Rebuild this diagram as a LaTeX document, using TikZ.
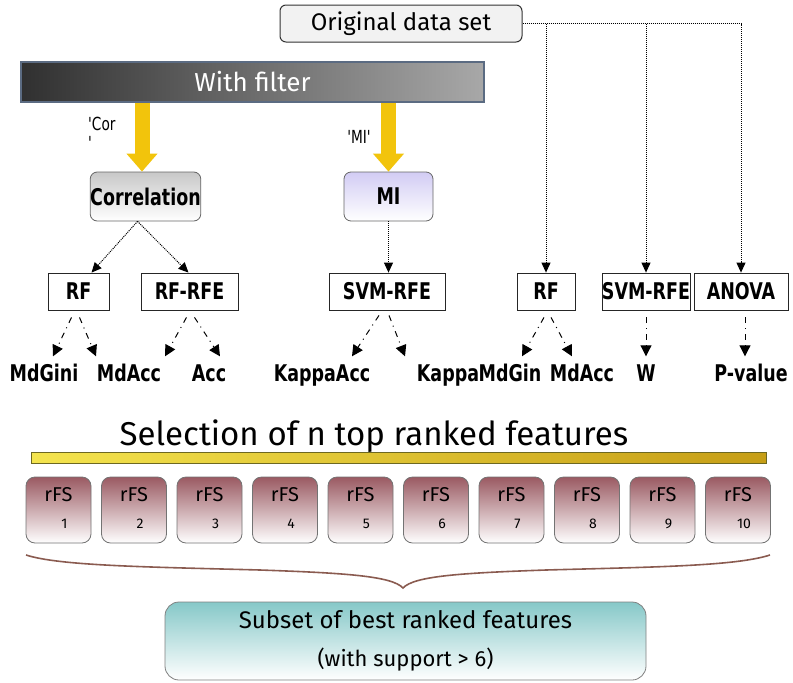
\documentclass[tikz,border=0pt]{standalone}
\usepackage{fontspec}
\setmainfont{DejaVu Sans}
\newfontfamily\handfont{Fira Sans}
\newfontfamily\boxfont{DejaVu Sans}[FakeStretch=0.76]
\usepackage{xcolor}
\usepackage{tikz}
\usetikzlibrary{calc, positioning, arrows.meta}
\definecolor{origFill}{HTML}{F2F2F2}
\definecolor{filterLeft}{HTML}{303030}
\definecolor{filterRight}{HTML}{A8A8A8}
\definecolor{filterBorder}{HTML}{5B6B82}
\definecolor{arrowYellow}{HTML}{F2C40C}
\definecolor{corrTop}{HTML}{C8C8C8}
\definecolor{miTop}{HTML}{D2CCF4}
\definecolor{rfsTop}{HTML}{9A5A62}
\definecolor{subsetTop}{HTML}{86C8C8}
\definecolor{selLeft}{HTML}{F4E44E}
\definecolor{selRight}{HTML}{C69E16}
\definecolor{braceBrown}{HTML}{8A5B50}
\tikzset{
    hand/.style={font=\handfont\fontsize{24}{28}\selectfont},
    origBox/.style={rectangle, rounded corners=6pt, draw=black!80, line width=1pt, fill=origFill, minimum width=242pt, minimum height=37pt, hand},
    filterBar/.style={rectangle, draw=filterBorder, line width=1.2pt, left color=filterLeft, right color=filterRight, minimum width=463pt, minimum height=40pt, text=white, font=\handfont\fontsize{26}{30}\selectfont},
    filterBox/.style={rectangle, rounded corners=7pt, draw=black!60, line width=0.8pt, minimum width=109pt, minimum height=49pt, inner sep=0pt, font=\boxfont\bfseries\fontsize{23}{25}\selectfont},
    method/.style={rectangle, draw=black!85, line width=0.8pt, fill=white, minimum height=37pt, inner sep=0pt, font=\boxfont\bfseries\fontsize{23}{25}\selectfont},
    leaf/.style={inner sep=0pt, text height=17pt, text depth=4pt, font=\boxfont\bfseries\fontsize{23}{25}\selectfont},
    tag/.style={inner sep=0pt, align=left, font=\boxfont\fontsize{18}{19}\selectfont},
    yellowArrow/.style={line width=15pt, draw=arrowYellow, -{Triangle[length=18pt, width=30pt]}},
    dotArrow/.style={densely dotted, line width=1pt, -{Triangle[length=10pt, width=9pt]}},
    dataLine/.style={densely dotted, line width=1pt},
    leafArrow/.style={line width=1pt, dash pattern=on 6pt off 5pt on 1pt off 5pt, -{Triangle[length=11pt, width=11pt]}},
    selBar/.style={rectangle, draw=olive!70!black, line width=0.8pt, left color=selLeft, right color=selRight, minimum width=735pt, minimum height=11pt, inner sep=0pt},
    rfsBox/.style={rectangle, rounded corners=9pt, draw=black!55, line width=0.8pt, top color=rfsTop, bottom color=white, minimum width=65pt, minimum height=66pt},
    rfsText/.style={inner sep=0pt, font=\handfont\fontsize{20}{22}\selectfont},
    rfsNum/.style={inner sep=0pt, font=\handfont\fontsize{14}{16}\selectfont},
    subsetBox/.style={rectangle, rounded corners=14pt, draw=black!50, line width=0.8pt, top color=subsetTop, bottom color=white, minimum width=481pt, minimum height=78pt, align=center, hand},
    braceLine/.style={draw=braceBrown, line width=1.6pt}
}

\begin{document}
\begin{tikzpicture}[x=1pt, y=-1pt]
    \useasboundingbox (0,0) rectangle (793,683);

    % Top: data set and filter bar
    \node[origBox] (origData) at (401,23.5) {Original data set};
    \node[filterBar] (withFilter) at (252.5,82) {With filter};

    % Filter methods
    \node[filterBox, top color=corrTop, bottom color=white] (corr) at (145.5,196.5) {Correlation};
    \node[filterBox, top color=miTop, bottom color=white, minimum width=89pt] (mi) at (388.5,196.5) {MI};

    \draw[yellowArrow] (withFilter.south -| 142,0) -- (corr.north -| 142,0);
    \draw[yellowArrow] (withFilter.south -| mi.north) -- (mi.north);
    \node[tag, anchor=north west] (corTag) at (88,117) {'Cor\\'};
    \node[tag] (miTag) at (359,137) {'MI'};

    % Classifier / ranking boxes
    \node[method, minimum width=61pt] (rfA) at (78.5,291.5) {RF};
    \node[method, minimum width=97pt] (rfRfe) at (189.5,291.5) {RF-RFE};
    \node[method, minimum width=116pt] (svmRfeA) at (387,291.5) {SVM-RFE};
    \node[method, minimum width=58pt] (rfB) at (546,291.5) {RF};
    \node[method, minimum width=88pt] (svmRfeB) at (646,291.5) {SVM-RFE};
    \node[method, minimum width=94pt] (anova) at (741,291.5) {ANOVA};

    % Dotted arrows into the boxes
    \draw[dotArrow] ([xshift=-8pt]corr.south) -- ([xshift=13pt]rfA.north);
    \draw[dotArrow] ([xshift=-8pt]corr.south) -- ([xshift=-1pt]rfRfe.north);
    \draw[dotArrow] (mi.south) -- (mi.south |- svmRfeA.north);
    \draw[dataLine] (origData.east) -| ([yshift=10pt]anova.north);
    \draw[dotArrow] (origData.east -| rfB.north) -- (rfB.north);
    \draw[dotArrow] (origData.east -| svmRfeB.north) -- (svmRfeB.north);
    \draw[dotArrow] ([yshift=11pt]anova.north) -- (anova.north);

    % Ranking measures
    \node[leaf] (mdGiniA) at (44,375) {MdGini};
    \node[leaf] (mdAccA) at (129,375) {MdAcc};
    \node[leaf] (accA) at (209,375) {Acc};
    \node[leaf] (kappaAcc) at (322,375) {KappaAcc};
    \node[leaf] (kappa) at (448,375) {Kappa};
    \node[leaf] (mdGin) at (510,375) {MdGin};
    \node[leaf] (mdAccB) at (582,375) {MdAcc};
    \node[leaf] (wOut) at (646,375) {W};
    \node[leaf] (pValue) at (751,375) {P-value};

    \draw[leafArrow] ([xshift=-7pt,yshift=-7pt]rfA.south) -- ([xshift=9pt,yshift=8pt]mdGiniA.north);
    \draw[leafArrow] ([xshift=1pt,yshift=-7pt]rfA.south) -- ([xshift=-33pt,yshift=8pt]mdAccA.north);
    \draw[leafArrow] ([xshift=-3pt,yshift=-7pt]rfRfe.south) -- ([xshift=-44pt,yshift=8pt]accA.north);
    \draw[leafArrow] ([xshift=5pt,yshift=-7pt]rfRfe.south) -- ([xshift=11pt,yshift=8pt]accA.north);
    \draw[leafArrow] ([xshift=-8pt,yshift=-5pt]svmRfeA.south) -- ([xshift=30pt,yshift=8pt]kappaAcc.north);
    \draw[leafArrow] ([xshift=2pt,yshift=-5pt]svmRfeA.south) -- ([xshift=-43pt,yshift=8pt]kappa.north);
    \draw[leafArrow] ([xshift=-2pt,yshift=-7pt]rfB.south) -- ([xshift=12pt,yshift=8pt]mdGin.north);
    \draw[leafArrow] ([xshift=5pt,yshift=-7pt]rfB.south) -- ([xshift=-10pt,yshift=8pt]mdAccB.north);
    \draw[leafArrow] ([yshift=-7pt]svmRfeB.south) -- ([yshift=8pt]wOut.north);
    \draw[leafArrow] ([xshift=4pt,yshift=-7pt]anova.south) -- ([xshift=-6pt,yshift=8pt]pValue.north);

    % Selection of features
    \node[font=\handfont\fontsize{33}{38}\selectfont] (selTitle) at (374,436) {Selection of n top ranked features};
    \node[selBar] (selBarNode) at (398.5,457.5) {};

    \foreach \i in {1,...,10} {
        \node[rfsBox] (rfs\i) at ({58.5+75.5*(\i-1)},510) {};
        \node[rfsText] at ([yshift=15pt]rfs\i.center) {rFS};
        \node[rfsNum] at ([xshift=6pt,yshift=-14pt]rfs\i.center) {\i};
    }

    % Brace
    \coordinate (braceL) at (26,555);
    \coordinate (braceTip) at (403,588);
    \coordinate (braceR) at (770,555);
    \draw[braceLine] (braceL) .. controls (60,566) and (150,567) .. (260,570)
        .. controls (345,573) and (392,576) .. (braceTip)
        .. controls (414,576) and (461,573) .. (546,570)
        .. controls (656,567) and (736,566) .. (braceR);

    % Result
    \node[subsetBox] (subset) at (405.5,641) {Subset of best ranked features\\[10pt]{\fontsize{22}{26}\selectfont (with support > 6)}};
\end{tikzpicture}
\end{document}
